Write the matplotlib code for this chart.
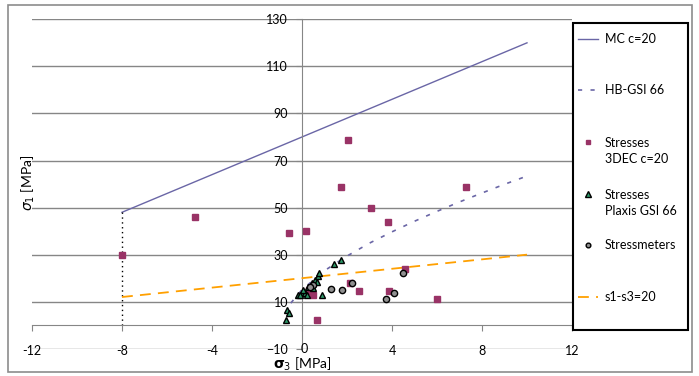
import matplotlib
matplotlib.use("Agg")
import matplotlib.pyplot as plt
from matplotlib.lines import Line2D
from matplotlib.patches import Rectangle

plt.rcParams['font.family'] = ['Lato', 'DejaVu Sans']

# Mohr-Coulomb envelope c=20
mc_s3 = [-8, 10]
mc_s1 = [48, 120]
# tension cut-off at s3=-8
cut_s3 = [-8, -8]
cut_s1 = [48, 0]
# Hoek-Brown GSI 66
hb_s3 = [-0.5, 0, 1, 2, 3, 4, 5, 6, 7, 8, 9, 10]
hb_s1 = [9.4, 15.1, 23.2, 29.4, 34.9, 39.7, 44.2, 48.4, 52.4, 56.2, 59.9, 63.4]
# s1 - s3 = 20
dev_s3 = [-8, 10]
dev_s1 = [12, 30]

dec_s3 = [-8, -4.76, -0.56, 0.18, 1.72, 2.06, 3.07, 3.81, 7.29, 4.58,
          2.13, 2.53, 3.88, 5.99, 0.68, 0.36, 0.47, 0.3]
dec_s1 = [30, 46, 39.4, 40.1, 58.9, 78.7, 50, 43.8, 58.9, 24.1,
          17.8, 14.6, 14.6, 11.2, 2.4, 14.6, 13.0, 15.0]

plx_s3 = [-0.72, -0.65, -0.6, 1.42, 1.72, 0.87, -0.19, -0.01, 0.13, 0.06,
          0.28, 0.43, 0.58, 0.73, 0.77, 0.2, 0.5, 0.65, -0.1]
plx_s1 = [2.2, 6.4, 5.0, 26, 27.7, 13, 12.8, 13.6, 13.7, 14.9,
          16.4, 17.8, 19.4, 21, 22, 12.8, 16.0, 18.5, 13.0]

sm_s3 = [0.5, 0.35, 1.29, 1.79, 2.2, 4.5, 3.72, 4.1]
sm_s1 = [17.3, 16.2, 15.2, 14.9, 17.8, 22.3, 11.0, 13.7]

xticks = [-12, -8, -4, 0, 4, 8, 12]
yticks = [-10, 10, 30, 50, 70, 90, 110, 130]

W, H = 699, 376
fig = plt.figure(figsize=(W / 100, H / 100), dpi=100)


def fx(px):
    return px / W


def fy(py):
    return 1 - py / H


top, bot = 19.3, 348.8
ax = fig.add_axes([fx(32), fy(bot), fx(572) - fx(32), fy(top) - fy(bot)])
ax.set_xlim(-12, 12)
ax.set_ylim(-10, 130)

grid_c = '#868686'
for v in yticks:
    ax.axhline(v, color=grid_c, lw=1.0, zorder=0)

for s in ['top', 'right']:
    ax.spines[s].set_visible(False)
ax.spines['bottom'].set_position(('data', 0))
ax.spines['left'].set_position(('data', 0))
ax.spines['bottom'].set_color(grid_c)
ax.spines['left'].set_color(grid_c)
ax.set_xticks(xticks)
ax.set_yticks(yticks)
ax.tick_params(axis='x', direction='out', length=4, color=grid_c, pad=10,
               labelsize=9)
ax.tick_params(axis='y', direction='out', length=4, color=grid_c, pad=6,
               labelsize=9)
ax.set_xticklabels(['-12', '-8', '-4', '', '4', '8', '12'])
ax.text(0.1, -10, '0', ha='center', va='center', fontsize=9)

mc_c = '#6a66a6'
st_mc = dict(color=mc_c, lw=1.0)
st_hb = dict(color=mc_c, lw=1.2, ls=(0, (2.5, 5)))
st_dev = dict(color='#ffa000', lw=1.3, ls=(0, (6, 4)))
st_dec = dict(ls='none', marker='s', ms=4.5, mfc='#993366', mec='#993366')
st_plx = dict(ls='none', marker='^', ms=5, mfc='#2e9a6a', mec='black', mew=1)
st_sm = dict(ls='none', marker='o', ms=4.5, mfc='#909090', mec='black', mew=1)

ax.plot(mc_s3, mc_s1, **st_mc)
ax.plot(cut_s3, cut_s1, color='black', lw=1.0, ls=(0, (1, 2.5)))
ax.plot(hb_s3, hb_s1, **st_hb)
ax.plot(dev_s3, dev_s1, **st_dev, zorder=3)
ax.plot(dec_s3, dec_s1, **st_dec, zorder=4)
ax.plot(plx_s3, plx_s1, **st_plx, zorder=5)
ax.plot(sm_s3, sm_s1, **st_sm, zorder=5)

fig.text(fx(302), fy(364), r'$\mathbf{\sigma}_3$ [MPa]', ha='center', va='center',
         fontsize=10)
fig.text(fx(28), fy(183), r'$\sigma_1$ [MPa]', ha='center', va='center',
         rotation=90, fontsize=10)

# outer frame
fig.patches.append(Rectangle((fx(8), fy(372)), fx(692) - fx(8), fy(5) - fy(372),
                             transform=fig.transFigure, fill=False,
                             edgecolor='#8c8c8c', lw=1.2))
# legend box
fig.patches.append(Rectangle((fx(573), fy(330)), fx(688) - fx(573), fy(23) - fy(330),
                             transform=fig.transFigure, fill=False,
                             edgecolor='black', lw=1.5))

entries = [
    (39, 'MC c=20', st_mc),
    (90, 'HB-GSI 66', st_hb),
    (151, 'Stresses\n3DEC c=20', st_dec),
    (203, 'Stresses\nPlaxis GSI 66', st_plx),
    (245, 'Stressmeters', st_sm),
    (297, 's1-s3=20', st_dev),
]
for yy, lab, st in entries:
    top_line = yy - 9 if '\n' in lab else yy
    if st.get('ls') == 'none':
        fig.lines.append(Line2D([fx(588)], [fy(top_line)], transform=fig.transFigure,
                                **{**st, 'ms': st['ms'] * 0.75}))
    else:
        fig.lines.append(Line2D([fx(578), fx(598)], [fy(yy), fy(yy)],
                                transform=fig.transFigure, **st))
    fig.text(fx(605), fy(yy), lab, ha='left', va='center', fontsize=9,
             linespacing=1.45)

fig.savefig('out.png', dpi=100)
